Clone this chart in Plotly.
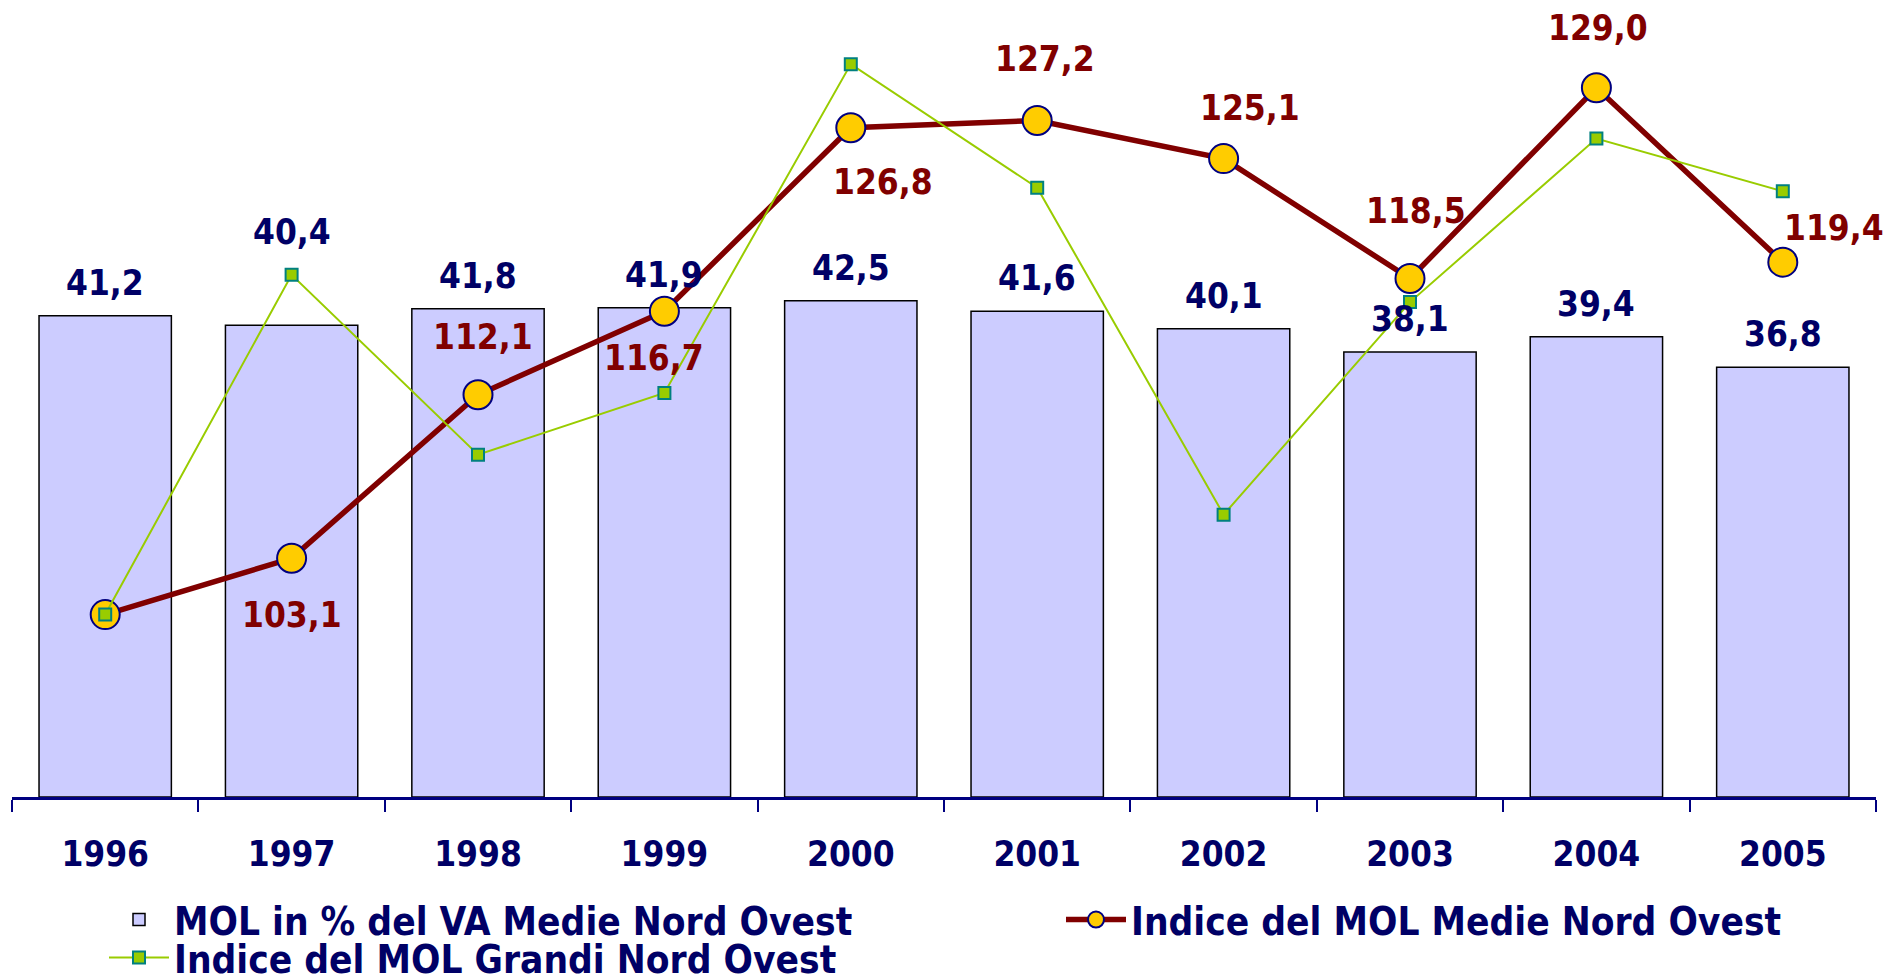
import plotly.graph_objects as go

# ---------------- data ----------------
years = ["1996", "1997", "1998", "1999", "2000", "2001", "2002", "2003", "2004", "2005"]
mol_va_medie = [41.2, 40.4, 41.8, 41.9, 42.5, 41.6, 40.1, 38.1, 39.4, 36.8]
indice_medie = [100.0, 103.1, 112.1, 116.7, 126.8, 127.2, 125.1, 118.5, 129.0, 119.4]
indice_grandi = [100.0, 118.7, 108.8, 112.2, 130.3, 123.5, 105.5, 117.2, 126.2, 123.3]
medie_label_visible = [False, True, True, True, True, True, True, True, True, True]

series_names = [
    "MOL in % del VA Medie Nord Ovest",
    "Indice del MOL Medie Nord Ovest",
    "Indice del MOL Grandi Nord Ovest",
]

# ---------------- label placement (pixels) ----------------
bar_label_shift = [33, 93, 33, 33, 33, 33, 33, 33, 33, 33]
medie_label_dx = [0, 0, 5, -10, 32, 8, 26, 6, 2, 51]
medie_label_dy = [0, -57, 58, -47, -54, 61, 51, 68, 60, 34]

# ---------------- styles ----------------
FONT = "DejaVu Sans Condensed, Liberation Sans, Arial, sans-serif"
NAVY = "#000066"
DARKRED = "#800000"
FS = 35
LFS = 38.5

def fmt(v):
    return "<b>" + f"{v:.1f}".replace(".", ",") + "</b>"

fig = go.Figure()

fig.add_trace(go.Bar(
    x=years, y=mol_va_medie, name="<b>" + series_names[0] + "</b>",
    marker=dict(color="#CCCCFF", line=dict(color="#000000", width=1.5)),
    legend="legend", yaxis="y",
))

fig.add_trace(go.Scatter(
    x=years, y=indice_medie, name="<b>" + series_names[1] + "</b>", mode="lines+markers",
    line=dict(color=DARKRED, width=5.5),
    marker=dict(symbol="circle", size=29, color="#FFCC00",
                line=dict(color="#000080", width=2)),
    legend="legend3", yaxis="y2",
))

fig.add_trace(go.Scatter(
    x=years, y=indice_grandi, name="<b>" + series_names[2] + "</b>", mode="lines+markers",
    line=dict(color="#99CC00", width=2),
    marker=dict(symbol="square", size=12, color="#99CC00",
                line=dict(color="#008080", width=2)),
    legend="legend2", yaxis="y2",
))

annotations = []
for i, (yr, v) in enumerate(zip(years, mol_va_medie)):
    annotations.append(dict(
        x=i, y=v, xref="x", yref="y", text=fmt(v), showarrow=False,
        yanchor="middle", xanchor="center", yshift=bar_label_shift[i],
        font=dict(family=FONT, size=FS, color=NAVY),
    ))
for i, (yr, v) in enumerate(zip(years, indice_medie)):
    if not medie_label_visible[i]:
        continue
    annotations.append(dict(
        x=i, y=v, xref="x", yref="y2", text=fmt(v), showarrow=False,
        yanchor="middle", xanchor="center",
        xshift=medie_label_dx[i], yshift=medie_label_dy[i],
        font=dict(family=FONT, size=FS, color=DARKRED),
    ))

W, H = 1886, 979

def legend_box(x_px, y_px):
    return dict(
        orientation="h", xref="container", yref="container",
        x=x_px / W, y=1 - y_px / H, xanchor="left", yanchor="top",
        itemwidth=60, bgcolor="rgba(0,0,0,0)",
        font=dict(family=FONT, size=LFS, color=NAVY),
    )

fig.update_layout(
    width=W, height=H,
    margin=dict(l=12, r=10, t=0, b=182),
    paper_bgcolor="white", plot_bgcolor="white",
    bargap=0.29,
    showlegend=True,
    xaxis=dict(
        type="category", range=[-0.5, 9.5],
        showline=True, linecolor="#000080", linewidth=2.5,
        ticks="outside", tickson="boundaries", ticklen=12,
        tickcolor="#000080", tickwidth=1.5,
        tickfont=dict(family=FONT, size=FS, color=NAVY, weight="bold"),
        ticklabelstandoff=24,
        showgrid=False, zeroline=False,
    ),
    yaxis=dict(range=[0, 68.24], visible=False, showgrid=False, zeroline=False),
    yaxis2=dict(range=[89.96, 133.83], overlaying="y", visible=False,
                showgrid=False, zeroline=False),
    legend=legend_box(104, 888),
    legend2=legend_box(104, 926),
    legend3=legend_box(1061, 888),
    annotations=annotations,
)

fig.write_html(
    "out.html",
    config={"displayModeBar": False},
    post_script="document.body.style.margin='0';document.body.style.overflow='hidden';",
)
